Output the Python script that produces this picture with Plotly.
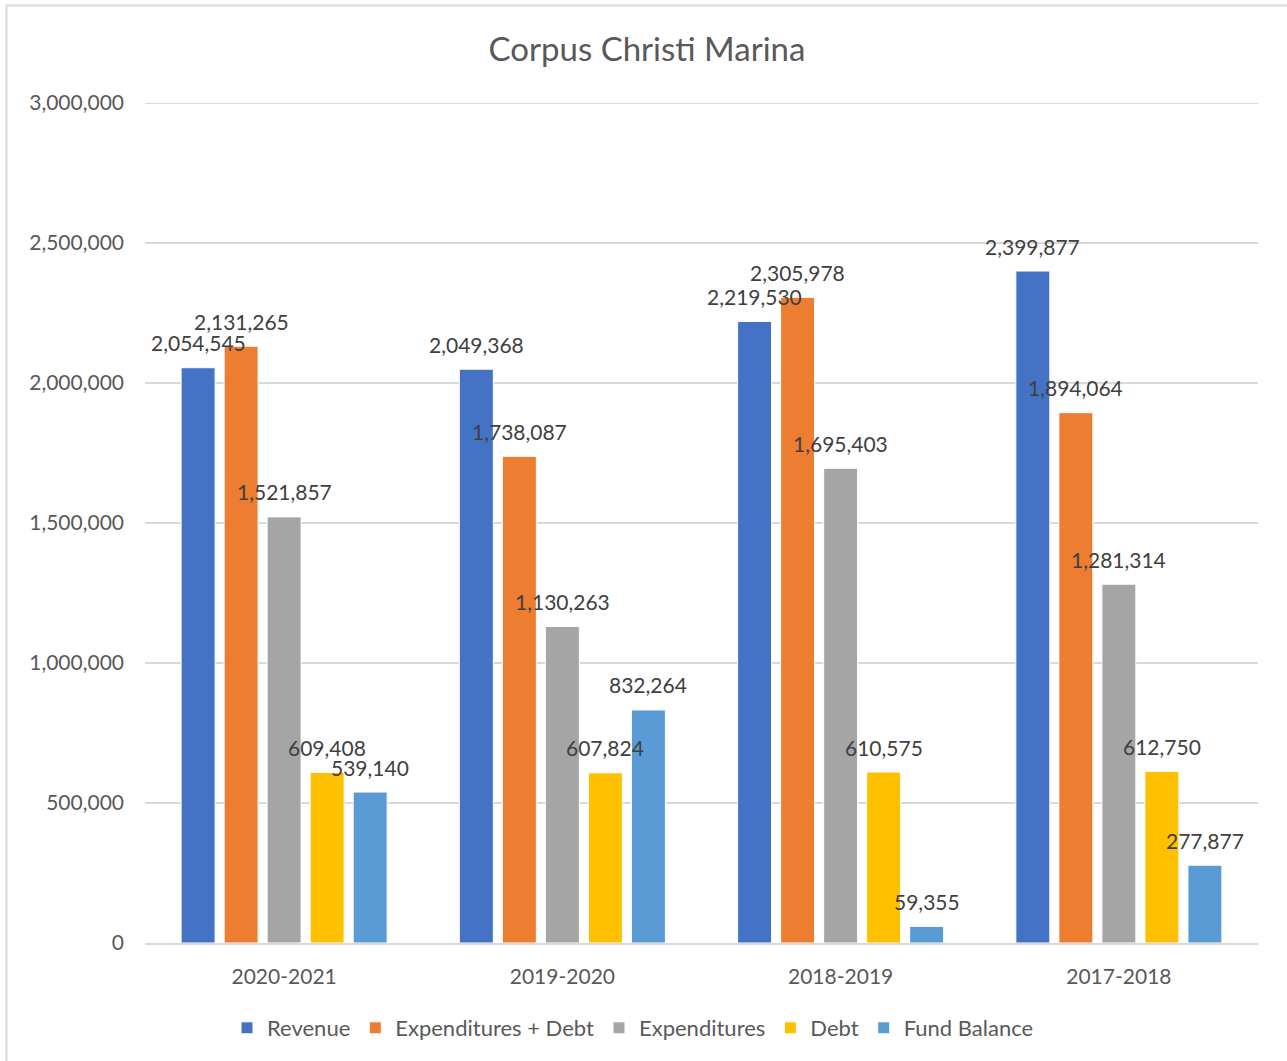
import plotly.graph_objects as go

categories = ["2020-2021", "2019-2020", "2018-2019", "2017-2018"]
series_names = ["Revenue", "Expenditures + Debt", "Expenditures", "Debt", "Fund Balance"]
revenue = [2054545, 2049368, 2219530, 2399877]
exp_debt = [2131265, 1738087, 2305978, 1894064]
expenditures = [1521857, 1130263, 1695403, 1281314]
debt = [609408, 607824, 610575, 612750]
fund_balance = [539140, 832264, 59355, 277877]
colors = ["#4472C4", "#ED7D31", "#A5A5A5", "#FFC000", "#5B9BD5"]
y_ticks = [0, 500000, 1000000, 1500000, 2000000, 2500000, 3000000]

series = [revenue, exp_debt, expenditures, debt, fund_balance]

W, H = 1287, 1061
L, R, T, B = 145, 29, 103, 118
FONT = "Lato"
TXT = "#595959"
GRID = "#d9d9d9"
bargap = 0.227

fig = go.Figure()
for name, vals, col in zip(series_names, series, colors):
    fig.add_trace(go.Bar(
        name=name, x=categories, y=vals, marker=dict(color=col, line=dict(color="white", width=1)),
    ))

# data labels as annotations, centered above each bar
n = len(series)
slot = (1 - bargap) / n
annotations = []
for k, vals in enumerate(series):
    off = (k - (n - 1) / 2) * slot
    for i, v in enumerate(vals):
        annotations.append(dict(
            x=i + off, y=v, xref="x", yref="y", text=f"{v:,}", showarrow=False,
            yanchor="middle", yshift=25, font=dict(family=FONT, size=21, color="#404040"),
        ))

pw, ph = W - L - R, H - T - B
def px_x(p):
    return (p - L) / pw
def px_y(p):
    return (H - B - p) / ph

fig.update_layout(
    width=W, height=H,
    margin=dict(l=L, r=R, t=T, b=B),
    paper_bgcolor="white", plot_bgcolor="white",
    barmode="group", bargap=bargap, bargroupgap=0.21,
    font=dict(family=FONT, color=TXT),
    title=dict(text="Corpus Christi Marina", x=647 / W, xanchor="center", xref="container",
               y=(H - 49) / H, yanchor="middle", yref="container",
               font=dict(family=FONT, size=33, color=TXT)),
    legend=dict(orientation="h", x=px_x(633), xanchor="center", y=px_y(1028), yanchor="middle",
                font=dict(family=FONT, size=22, color=TXT), itemwidth=30, traceorder="normal"),
    annotations=annotations,
    shapes=[
        dict(type="rect", xref="paper", yref="paper",
             x0=px_x(6.5), x1=px_x(1292), y0=px_y(1066), y1=px_y(5.5),
             line=dict(color=GRID, width=2), fillcolor="rgba(0,0,0,0)", layer="below"),
        dict(type="line", xref="paper", yref="y", x0=0, x1=1, y0=y_ticks[-1], y1=y_ticks[-1],
             line=dict(color=GRID, width=2), layer="below"),
    ],
    showlegend=True,
)
fig.update_xaxes(type="category", showgrid=False, showline=True, linecolor=GRID, linewidth=2,
                 ticks="outside", ticklen=14, tickcolor="rgba(0,0,0,0)",
                 tickfont=dict(family=FONT, size=21, color=TXT))
fig.update_yaxes(range=[0, 3000000], tickvals=y_ticks, tickformat=",", showgrid=True,
                 gridcolor=GRID, gridwidth=2, zeroline=False, showline=False,
                 ticklabelstandoff=20, tickfont=dict(family=FONT, size=21, color=TXT))

fig.write_html("out.html", config={"displayModeBar": False},
               post_script="document.body.style.margin='0';")
